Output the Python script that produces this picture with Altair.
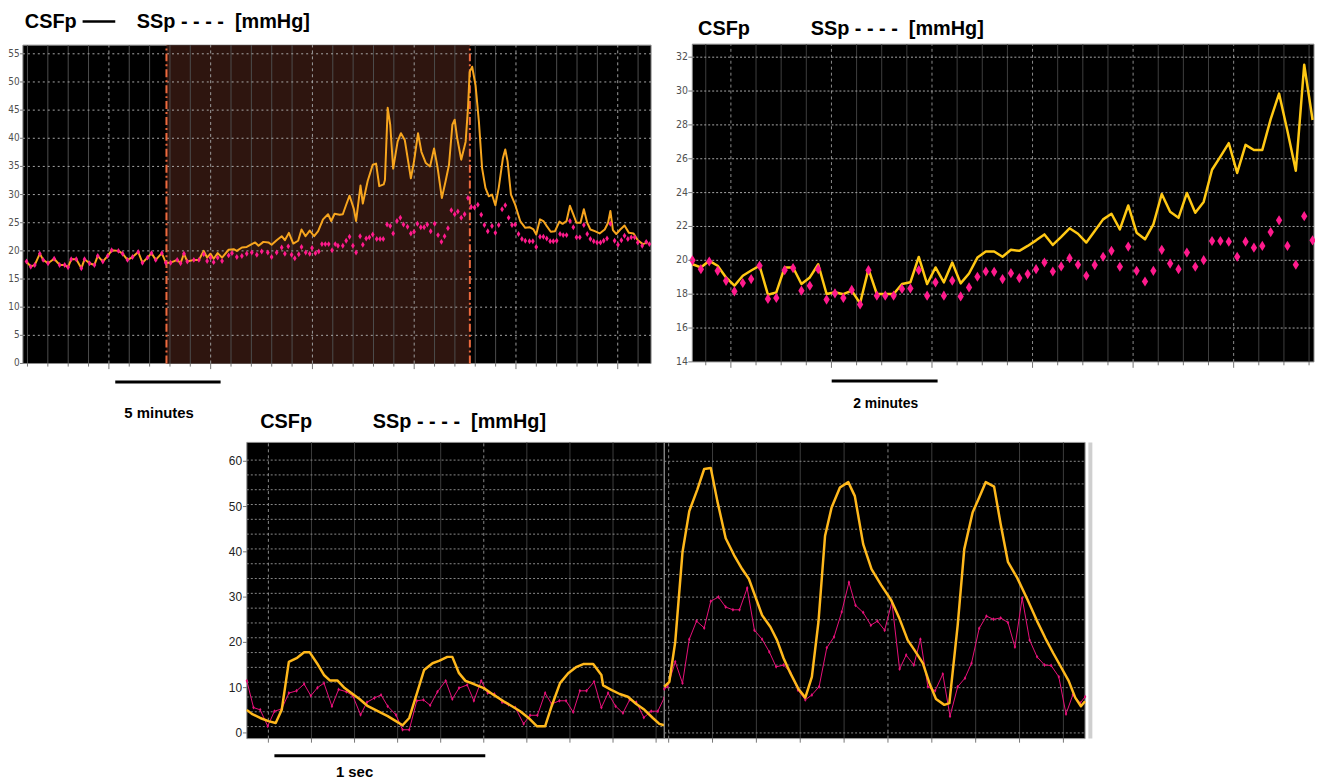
import altair as alt
import pandas as pd

# ---------------- Panel A (top-left), time in minutes ----------------
A_SH_T = [0.22, 0.42, 0.61, 0.85, 1.01, 1.24, 1.53, 1.79, 2.03, 2.19, 2.34, 2.58, 2.82, 2.97, 3.21,
          3.44, 3.60, 3.84, 4.07, 4.26, 4.58, 4.78, 5.01, 5.25, 5.52, 5.72, 5.96, 6.15, 6.35, 6.64,
          6.83, 7.06, 7.37, 7.53, 7.69, 7.85, 8.16, 8.40]
A_SH_V = [18.1, 17.2, 17.5, 19.5, 18.4, 17.8, 18.6, 17.5, 17.5, 17.1, 18.5, 18.5, 16.9, 18.5, 17.8,
          17.5, 19.1, 18.1, 19.1, 20.1, 20.0, 19.5, 18.4, 18.9, 19.8, 17.9, 18.8, 19.6, 18.4, 19.6,
          17.9, 17.9, 18.4, 17.8, 19.5, 18.1, 18.4, 18.4]

A_CSF_T = A_SH_T + [
    8.63, 8.79, 8.95, 9.10, 9.29, 9.50, 9.81, 10.05, 10.20, 10.44, 10.67, 10.91, 11.07, 11.23, 11.46,
    11.70, 11.85, 12.09, 12.33, 12.48, 12.67, 12.88, 13.11, 13.27, 13.46, 13.66, 13.87, 14.06, 14.29,
    14.53, 14.68, 14.84, 15.08, 15.23, 15.39, 15.55, 15.75, 15.86, 16.07, 16.18, 16.41, 16.65, 16.81,
    16.96, 17.17, 17.23, 17.36, 17.48, 17.62, 17.83, 17.99, 18.17, 18.46, 18.61, 18.80, 18.96, 19.17,
    19.37, 19.56, 19.72, 19.93, 20.11, 20.27, 20.43, 20.54, 20.66, 20.85, 21.06, 21.17, 21.25, 21.37,
    21.53, 21.69, 21.84, 22.00, 22.16, 22.31, 22.47, 22.63, 22.83, 22.94, 23.05, 23.21, 23.41, 23.65,
    23.89, 24.09, 24.28, 24.41, 24.59, 24.75, 24.91, 25.10, 25.30, 25.51, 25.66, 25.85, 26.01, 26.17,
    26.32, 26.51, 26.67, 26.83, 26.98, 27.19, 27.42, 27.66, 27.82, 27.93, 28.05, 28.21, 28.40, 28.60,
    28.81, 29.03, 29.23, 29.47, 29.70]
A_CSF_V = A_SH_V + [
    20.0, 18.8, 19.5, 18.6, 19.6, 18.8, 20.2, 20.3, 20.0, 20.6, 20.7, 21.2, 21.5, 20.9, 21.6,
    21.5, 21.1, 21.9, 22.6, 21.9, 23.2, 21.3, 21.8, 23.8, 22.6, 23.6, 22.6, 23.5, 25.6,
    26.5, 25.3, 26.6, 26.4, 26.5, 28.2, 29.8, 27.5, 25.3, 31.6, 28.4, 32.4, 35.3, 35.5,
    31.5, 31.8, 32.6, 45.4, 42.4, 34.6, 39.4, 40.9, 39.7, 32.9, 35.9, 40.9, 37.6, 35.6,
    35.0, 38.2, 35.0, 29.4, 32.4, 35.3, 42.4, 43.3, 40.0, 36.2, 39.4, 45.3, 51.8, 52.7,
    49.4, 42.9, 34.7, 31.2, 29.7, 30.0, 28.1, 31.2, 36.5, 38.0, 35.9, 30.0, 28.2, 25.3,
    24.1, 24.2, 23.8, 22.9, 25.6, 25.3, 24.4, 23.4, 23.5, 25.2, 24.8, 25.3, 28.0, 26.5,
    25.0, 25.0, 27.4, 25.0, 23.8, 23.5, 23.1, 23.8, 25.0, 27.1, 23.7, 23.0, 23.8, 24.5,
    23.2, 23.1, 21.9, 21.2, 21.5]

A_SSP_T = A_SH_T + [
    8.63, 8.79, 8.95, 9.10, 9.29, 9.50, 9.81, 9.97, 10.20, 10.44, 10.67, 10.91, 11.15, 11.38, 11.67,
    11.85, 12.09, 12.33, 12.48, 12.64, 12.80, 12.95, 13.14, 13.27, 13.47, 13.66, 13.77, 13.93, 14.09,
    14.24, 14.40, 14.56, 14.72, 14.87, 15.00, 15.23, 15.39, 15.55, 15.71, 15.86, 16.05, 16.18, 16.34,
    16.49, 16.65, 16.84, 17.00, 17.15, 17.33, 17.48, 17.62, 17.80, 17.96, 18.11, 18.30, 18.46, 18.61,
    18.77, 18.93, 19.09, 19.24, 19.40, 19.59, 19.75, 19.91, 20.06, 20.22, 20.38, 20.54, 20.69, 20.85,
    21.01, 21.17, 21.32, 21.48, 21.64, 21.80, 21.95, 22.11, 22.31, 22.47, 22.63, 22.79, 22.94, 23.10,
    23.26, 23.41, 23.57, 23.73, 23.89, 24.09, 24.25, 24.41, 24.59, 24.75, 24.91, 25.07, 25.22, 25.38,
    25.54, 25.69, 25.85, 26.01, 26.17, 26.32, 26.48, 26.67, 26.83, 26.98, 27.14, 27.30, 27.46, 27.61,
    27.77, 27.93, 28.13, 28.29, 28.45, 28.60, 28.76, 28.92, 29.08, 29.23, 29.44, 29.63, 29.78]
A_SSP_V = A_SH_V + [
    19.4, 18.2, 18.8, 18.0, 18.8, 18.2, 19.2, 19.6, 18.9, 19.1, 19.5, 19.7, 19.3, 19.9, 19.7,
    18.9, 19.7, 20.6, 19.5, 20.8, 19.3, 18.7, 19.4, 20.7, 19.7, 19.5, 20.5, 19.6, 19.9,
    21.2, 21.2, 21.2, 20.1, 21.2, 20.9, 20.9, 21.8, 22.5, 20.9, 19.7, 22.6, 21.1, 22.2,
    22.4, 22.9, 22.1, 22.1, 22.1, 24.7, 24.4, 23.1, 25.3, 25.9, 24.7, 24.3, 23.1, 23.4,
    24.8, 24.2, 24.2, 24.7, 23.5, 24.8, 22.8, 21.6, 22.6, 24.0, 27.2, 26.5, 27.0, 25.9,
    26.5, 29.4, 27.8, 27.7, 28.2, 26.4, 24.6, 23.5, 24.4, 23.2, 24.6, 27.4, 28.1, 25.9,
    24.6, 24.7, 23.0, 22.1, 21.8, 21.7, 21.7, 20.7, 22.5, 22.5, 22.2, 21.7, 21.7, 21.8,
    23.0, 22.8, 22.8, 25.3, 24.2, 22.4, 22.4, 24.6, 23.0, 22.1, 21.7, 21.5, 21.5, 21.8,
    22.2, 24.8, 21.8, 21.1, 21.9, 22.7, 22.1, 22.4, 22.4, 21.5, 20.9, 21.6, 21.2]

A_EVENTS = [6.86, 21.26]          # start / end of infusion (shaded)
A_YLABELS = [0, 5, 10, 15, 20, 25, 30, 35, 40, 45, 50, 55]

# ---------------- Panel B (top-right), time in seconds ----------------
B_T = [0, 10, 20, 30, 40, 50, 60, 70, 80, 90, 100, 110, 120, 130, 140, 150, 160, 170, 180, 190,
       200, 210, 220, 230, 240, 250, 260, 270, 280, 290, 300, 310, 320, 330, 340, 350, 360, 370,
       380, 390, 400, 410, 420, 430, 440, 450, 460, 470, 480, 490, 500, 510, 520, 530, 540, 550,
       560, 570, 580, 590, 600, 610, 620, 630, 640, 650, 660, 670, 680, 690, 700, 710, 720, 730, 740]
B_CSF = [19.77, 19.58, 19.97, 19.68, 18.99, 18.50, 19.09, 19.40, 19.68, 17.97, 18.11, 19.58, 19.58,
         18.60, 18.99, 19.77, 18.01, 18.11, 18.00, 18.21, 17.46, 19.48, 18.01, 18.01, 18.01, 18.60,
         18.70, 20.20, 18.60, 19.58, 18.70, 19.87, 18.64, 19.22, 20.16, 20.52, 20.52, 20.21, 20.62,
         20.56, 20.85, 21.18, 21.53, 20.91, 21.38, 21.89, 21.57, 21.05, 21.73, 22.42, 22.75, 21.83,
         23.24, 21.63, 21.24, 22.12, 23.92, 22.87, 22.51, 23.98, 22.81, 23.45, 25.35, 26.13, 26.92,
         25.16, 26.82, 26.52, 26.52, 28.34, 29.85, 27.64, 25.29, 31.55, 28.29]
B_SSP = [20.00, 19.48, 19.93, 19.38, 18.79, 18.17, 18.66, 18.89, 19.68, 17.72, 17.78, 19.42, 19.54,
         18.21, 18.50, 19.48, 17.68, 18.05, 17.78, 18.25, 17.39, 19.42, 17.91, 17.91, 17.91, 18.31,
         18.34, 19.42, 17.91, 18.70, 17.91, 18.80, 17.87, 18.40, 19.03, 19.34, 19.32, 18.89, 19.24,
         18.95, 19.19, 19.48, 19.87, 19.34, 19.64, 20.13, 19.74, 19.09, 19.72, 20.21, 20.56, 19.62,
         20.81, 19.38, 18.75, 19.38, 20.62, 19.81, 19.48, 20.46, 19.62, 20.01, 21.14, 21.14, 21.10,
         20.21, 21.10, 20.75, 20.85, 21.67, 22.36, 20.85, 19.74, 22.61, 21.18]
B_YLABELS = [14, 16, 18, 20, 22, 24, 26, 28, 30, 32]

# ---------------- Panel C (bottom), time in seconds ----------------
CL_CSF_T = [-0.100, -0.077, -0.038, 0.000, 0.034, 0.062, 0.095, 0.131, 0.166, 0.192, 0.231, 0.258,
            0.285, 0.320, 0.354, 0.385, 0.423, 0.462, 0.508, 0.554, 0.592, 0.623, 0.654, 0.692,
            0.723, 0.762, 0.792, 0.831, 0.854, 0.885, 0.915, 0.954, 1.000, 1.046, 1.092, 1.131,
            1.169, 1.208, 1.246, 1.285, 1.315, 1.354, 1.392, 1.431, 1.462, 1.508, 1.546, 1.554,
            1.592, 1.631, 1.669, 1.708, 1.746, 1.785, 1.815, 1.838]
CL_CSF_V = [5.1, 4.2, 3.3, 2.6, 2.2, 5.1, 15.7, 16.5, 17.8, 17.8, 15.0, 12.8, 11.6, 11.6, 9.9, 8.8,
            7.5, 5.9, 4.8, 3.7, 2.6, 1.7, 3.3, 9.1, 13.9, 15.4, 15.9, 16.8, 16.8, 13.2, 11.5, 10.8,
            9.9, 8.4, 7.0, 5.9, 4.8, 3.3, 1.5, 1.5, 5.9, 11.0, 13.2, 14.6, 15.2, 15.2, 12.8, 10.5,
            9.5, 8.6, 8.0, 6.4, 5.1, 3.3, 2.0, 1.7]
CL_SSP_T = [-0.100, -0.069, -0.038, -0.003, 0.028, 0.062, 0.095, 0.131, 0.166, 0.197, 0.228, 0.258,
            0.295, 0.326, 0.362, 0.392, 0.428, 0.458, 0.492, 0.523, 0.554, 0.592, 0.623, 0.654,
            0.689, 0.720, 0.751, 0.785, 0.823, 0.854, 0.885, 0.923, 0.954, 0.988, 1.018, 1.049,
            1.085, 1.115, 1.146, 1.185, 1.215, 1.249, 1.285, 1.315, 1.351, 1.382, 1.415, 1.446,
            1.477, 1.512, 1.546, 1.577, 1.612, 1.646, 1.677, 1.708, 1.743, 1.777, 1.808, 1.838]
CL_SSP_V = [11.5, 5.6, 5.1, 1.5, 4.8, 5.3, 8.8, 9.3, 10.8, 8.2, 10.0, 11.0, 5.9, 9.6, 9.1, 8.2,
            4.0, 6.8, 7.7, 8.4, 5.9, 4.0, 0.7, 0.7, 7.1, 7.3, 6.1, 9.1, 11.5, 7.5, 9.9, 10.6, 7.1,
            11.5, 8.8, 8.6, 6.8, 6.2, 5.6, 2.0, 3.9, 3.9, 8.8, 6.4, 7.1, 7.1, 4.6, 9.3, 9.3, 11.3,
            5.6, 8.8, 5.9, 4.4, 7.3, 6.8, 3.4, 4.8, 4.8, 7.8]

CR_CSF_T = [-0.020, 0.003, 0.030, 0.063, 0.094, 0.131, 0.162, 0.192, 0.222, 0.260, 0.298, 0.335,
            0.366, 0.396, 0.426, 0.464, 0.494, 0.524, 0.555, 0.592, 0.623, 0.653, 0.683, 0.713,
            0.743, 0.781, 0.819, 0.849, 0.887, 0.925, 0.970, 1.015, 1.053, 1.090, 1.121, 1.159,
            1.189, 1.219, 1.257, 1.280, 1.318, 1.348, 1.386, 1.416, 1.446, 1.484, 1.514, 1.547,
            1.590, 1.635, 1.680, 1.718, 1.754, 1.791, 1.824, 1.854, 1.880, 1.899]
CR_CSF_V = [10.2, 11.3, 20.1, 39.9, 49.0, 53.8, 58.3, 58.5, 51.2, 43.0, 39.3, 36.2, 34.0, 30.0,
            26.0, 23.4, 20.5, 16.5, 13.2, 9.7, 7.8, 12.4, 24.5, 43.5, 49.8, 54.2, 55.4, 52.3, 41.7,
            36.2, 32.6, 29.3, 25.2, 20.5, 18.3, 15.4, 11.0, 7.5, 6.2, 6.6, 23.8, 40.6, 48.7, 52.0,
            55.4, 54.4, 46.1, 37.8, 34.2, 29.6, 24.7, 20.9, 17.6, 14.4, 11.5, 7.8, 5.9, 7.0]
CR_SSP_T = [-0.020, -0.005, 0.030, 0.063, 0.094, 0.127, 0.162, 0.192, 0.227, 0.260, 0.293, 0.323,
            0.358, 0.391, 0.426, 0.459, 0.490, 0.524, 0.555, 0.589, 0.623, 0.653, 0.686, 0.721,
            0.754, 0.789, 0.822, 0.852, 0.887, 0.922, 0.952, 0.985, 1.018, 1.053, 1.083, 1.118,
            1.148, 1.182, 1.215, 1.250, 1.283, 1.318, 1.351, 1.381, 1.416, 1.449, 1.481, 1.514,
            1.547, 1.579, 1.612, 1.646, 1.680, 1.714, 1.744, 1.779, 1.812, 1.843, 1.877, 1.899]
CR_SSP_V = [9.7, 10.2, 15.7, 11.0, 20.7, 24.7, 23.2, 29.1, 30.0, 27.8, 27.2, 27.2, 32.0, 22.7, 20.7,
            17.9, 14.6, 15.0, 13.4, 9.5, 7.3, 8.4, 10.2, 18.8, 21.2, 26.7, 33.3, 28.2, 26.6, 23.8,
            24.7, 22.7, 28.9, 14.1, 17.2, 15.0, 20.7, 10.2, 9.3, 13.0, 3.7, 10.2, 12.1, 15.4, 23.1,
            25.8, 25.1, 25.4, 24.4, 19.0, 29.8, 20.5, 16.8, 15.0, 14.9, 12.4, 4.2, 8.4, 6.6, 8.0]
C_YLABELS = [0, 10, 20, 30, 40, 50, 60]

TITLE_CSF = "CSFp"
TITLE_SSP = "SSp - - - -\u00a0\u00a0[mmHg]"

# ---------------- styling ----------------
FT = "Liberation Sans, Arial, sans-serif"
FN = "Liberation Sans Narrow, DejaVu Sans Condensed, Arial Narrow, sans-serif"
DIAMOND = "M0,-1L0.62,0L0,1L-0.62,0Z"


def mkscale(dom, rng):
    return alt.Scale(domain=dom, range=rng, zero=False, nice=False)


class Panel:
    def __init__(self, xdom, xrng, ydom, yrng):
        self.xdom, self.ydom = xdom, ydom
        self.xs = mkscale(xdom, xrng)
        self.ys = mkscale(ydom, yrng)
        self.layers = []

    def xy(self, xf="x", yf="y"):
        return dict(x=alt.X(xf, type="quantitative", scale=self.xs, axis=None),
                    y=alt.Y(yf, type="quantitative", scale=self.ys, axis=None))

    def rect(self, x0, x1, y0, y1, **mk):
        df = pd.DataFrame({"x": [x0], "x2": [x1], "y": [y0], "y2": [y1]})
        self.layers.append(alt.Chart(df).mark_rect(**mk).encode(
            **self.xy(), x2=alt.X2("x2"), y2=alt.Y2("y2")))

    def vrules(self, xs, y0, y1, **mk):
        if not xs:
            return
        df = pd.DataFrame({"x": xs, "y": [y0] * len(xs), "y2": [y1] * len(xs)})
        self.layers.append(alt.Chart(df).mark_rule(**mk).encode(**self.xy(), y2=alt.Y2("y2")))

    def hrules(self, ys, x0, x1, **mk):
        df = pd.DataFrame({"x": [x0] * len(ys), "x2": [x1] * len(ys), "y": ys})
        self.layers.append(alt.Chart(df).mark_rule(**mk).encode(**self.xy(), x2=alt.X2("x2")))

    def line(self, T, V, **mk):
        df = pd.DataFrame({"x": T, "y": V})
        self.layers.append(alt.Chart(df).mark_line(**mk).encode(**self.xy()))

    def points(self, T, V, **mk):
        df = pd.DataFrame({"x": T, "y": V})
        self.layers.append(alt.Chart(df).mark_point(**mk).encode(**self.xy()))

    def text(self, xs, ys, labels, **mk):
        df = pd.DataFrame({"x": xs, "y": ys, "label": [str(l) for l in labels]})
        self.layers.append(alt.Chart(df).mark_text(**mk).encode(**self.xy(), text="label:N"))

    def chart(self):
        return alt.layer(*self.layers)


# ================= Panel A =================
A = Panel([0.047, 29.86], [15, 647], [0, 56.54], [355.3, 35])
A.rect(0.047, 29.86, 0, 56.54, fill="#000000", stroke="#8c8c8c", strokeWidth=1)
A.rect(A_EVENTS[0], A_EVENTS[1], 0, 56.54, fill="#2e150f")
a_grid = [0.264 + 0.966 * n for n in range(31)]
a_minor = [g for i, g in enumerate(a_grid) if i % 5 != 4]
a_major = [g for i, g in enumerate(a_grid) if i % 5 == 4]
A.vrules(a_minor, 0, 56.54, color="#4d4d4d", strokeWidth=1)
A.vrules(a_major, 0, 56.54, color="#9c9c9c", strokeWidth=1, strokeDash=[3, 3])
A.hrules(A_YLABELS[1:], 0.047, 29.86, color="#a8a8a8", strokeWidth=1, strokeDash=[2, 3])
A.vrules(A_EVENTS, 0, 56.54, color="#ee6a3e", strokeWidth=2, strokeDash=[8, 3, 2, 3])
A.line(A_CSF_T, A_CSF_V, color="#f7a51e", strokeWidth=2, strokeJoin="round")
A.points(A_SSP_T, A_SSP_V, shape=DIAMOND, filled=True, size=36, color="#ff1a8c", opacity=1)
A.vrules(a_minor, 0, -0.55, color="#777777", strokeWidth=1)
A.vrules(a_major, 0, -1.0, color="#777777", strokeWidth=1)
A.hrules(A_YLABELS, -0.09, 0.047, color="#777777", strokeWidth=1)
A.text([-0.104] * len(A_YLABELS), A_YLABELS, A_YLABELS, align="right", baseline="middle",
       font=FN, fontSize=10, color="#505050")
A.hrules([-3.3], 4.43, 9.43, color="#000000", strokeWidth=3)
A.text([6.51], [-8.77], ["5 minutes"], align="center", baseline="middle", font=FT,
       fontSize=15, fontWeight="bold", color="#000000")
A.text([0.14], [59.63], [TITLE_CSF], align="left", baseline="alphabetic", font=FT,
       fontSize=20, fontWeight="bold", color="#000000")
A.hrules([60.75], 2.88, 4.43, color="#000000", strokeWidth=2.5)
A.text([5.45], [59.63], [TITLE_SSP], align="left", baseline="alphabetic", font=FT,
       fontSize=20, fontWeight="bold", color="#000000")

# ================= Panel B =================
B = Panel([-0.24, 741.7], [688.5, 1314], [14, 32.77], [353.7, 34])
B.rect(-0.24, 741.7, 14, 32.77, fill="#000000", stroke="#8c8c8c", strokeWidth=1)
b_grid = [15.8 + 30 * n for n in range(25)]
b_minor = [g for i, g in enumerate(b_grid) if i % 4 != 1]
b_major = [g for i, g in enumerate(b_grid) if i % 4 == 1]
B.vrules(b_minor, 14, 32.77, color="#3e3e3e", strokeWidth=1)
B.vrules(b_major, 14, 32.77, color="#8c8c8c", strokeWidth=1, strokeDash=[3, 3])
B.hrules(B_YLABELS[1:], -0.24, 741.7, color="#a8a8a8", strokeWidth=1, strokeDash=[2, 2])
B.line(B_T, B_CSF, color="#ffc814", strokeWidth=2.5, strokeJoin="round")
B.points(B_T, B_SSP, shape=DIAMOND, filled=True, size=105, color="#ff1a8c", opacity=1)
B.vrules(b_minor, 14, 13.8, color="#777777", strokeWidth=1)
B.vrules(b_major, 14, 13.65, color="#777777", strokeWidth=1)
B.hrules(B_YLABELS, -5.0, -0.24, color="#777777", strokeWidth=1)
B.text([-5.5] * len(B_YLABELS), B_YLABELS, B_YLABELS, align="right", baseline="middle",
       font=FN, fontSize=10.5, color="#505050")
B.hrules([12.87], 166.1, 292.5, color="#000000", strokeWidth=3)
B.text([230.5], [11.52], ["2 minutes"], align="center", baseline="middle", font=FT,
       fontSize=14, fontWeight="bold", color="#000000")
B.text([6.6], [33.33], [TITLE_CSF], align="left", baseline="alphabetic", font=FT,
       fontSize=20, fontWeight="bold", color="#000000")
B.text([141.0], [33.33], [TITLE_SSP], align="left", baseline="alphabetic", font=FT,
       fontSize=20, fontWeight="bold", color="#000000")

# ================= Panel C left =================
CY = [-1.251, 64.17]
CL = Panel([-0.100, 1.838], [240.3, 660.3], CY, [732.7, 434.7])
CL.rect(-0.100, 1.838, CY[0], CY[1], fill="#000000", stroke="#8c8c8c", strokeWidth=1)
c_minor = [0.2, 0.4, 0.6, 0.8, 1.2, 1.4, 1.6, 1.8]
c_major = [0.0, 1.0]
CL.vrules(c_minor, CY[0], CY[1], color="#3c3c3c", strokeWidth=1)
CL.vrules(c_major, CY[0], CY[1], color="#8a8a8a", strokeWidth=1, strokeDash=[3, 3])
CL.hrules([1.4 + 3.27 * k for k in range(19)], -0.100, 1.838, color="#8a8a8a",
          strokeWidth=1, strokeDash=[2, 2])
CL.line(CL_SSP_T, CL_SSP_V, color="#e8107a", strokeWidth=1)
CL.points(CL_SSP_T, CL_SSP_V, shape=DIAMOND, filled=True, size=16, color="#e8107a", opacity=1)
CL.line(CL_CSF_T, CL_CSF_V, color="#ffb81c", strokeWidth=2.5, strokeJoin="round")
CL.vrules(c_minor + c_major, CY[0], CY[0] - 0.9, color="#777777", strokeWidth=1)
CL.hrules(C_YLABELS, -0.118, -0.100, color="#777777", strokeWidth=1)
CL.text([-0.122] * len(C_YLABELS), C_YLABELS, C_YLABELS, align="right", baseline="middle",
        font=FT, fontSize=12, color="#222222")
CL.hrules([-5.05], 0.028, 1.007, color="#000000", strokeWidth=3)
CL.text([0.40], [-8.6], ["1 sec"], align="center", baseline="middle", font=FT,
        fontSize=15, fontWeight="bold", color="#000000")
CL.text([-0.038], [67.4], [TITLE_CSF], align="left", baseline="alphabetic", font=FT,
        fontSize=20, fontWeight="bold", color="#000000")
CL.text([0.485], [67.4], [TITLE_SSP], align="left", baseline="alphabetic", font=FT,
        fontSize=20, fontWeight="bold", color="#000000")

# ================= Panel C right =================
CR = Panel([-0.020, 1.899], [660.3, 1083.7], CY, [732.7, 434.7])
CR.rect(-0.020, 1.899, CY[0], CY[1], fill="#000000", stroke="#9a9a9a", strokeWidth=1)
CR.vrules(c_minor, CY[0], CY[1], color="#3c3c3c", strokeWidth=1)
CR.vrules(c_major, CY[0], CY[1], color="#8a8a8a", strokeWidth=1, strokeDash=[3, 3])
CR.hrules([5 * k for k in range(13)], -0.020, 1.899, color="#8a8a8a", strokeWidth=1,
          strokeDash=[2, 2])
CR.line(CR_SSP_T, CR_SSP_V, color="#e8107a", strokeWidth=1)
CR.points(CR_SSP_T, CR_SSP_V, shape=DIAMOND, filled=True, size=16, color="#e8107a", opacity=1)
CR.line(CR_CSF_T, CR_CSF_V, color="#ffb81c", strokeWidth=2.5, strokeJoin="round")
CR.vrules(c_minor + c_major, CY[0], CY[0] - 0.9, color="#777777", strokeWidth=1)
CR.vrules([1.923], CY[0], CY[1], color="#cfcfcf", strokeWidth=4)

chart = alt.layer(A.chart(), B.chart(), CL.chart(), CR.chart()).resolve_scale(
    x="independent", y="independent"
).properties(
    width=1315, height=773, padding=0, autosize=alt.AutoSizeParams(type="none"),
    background="#ffffff"
).configure_view(strokeOpacity=0)

chart.save("out.html", embed_options={"renderer": "svg", "actions": False})
